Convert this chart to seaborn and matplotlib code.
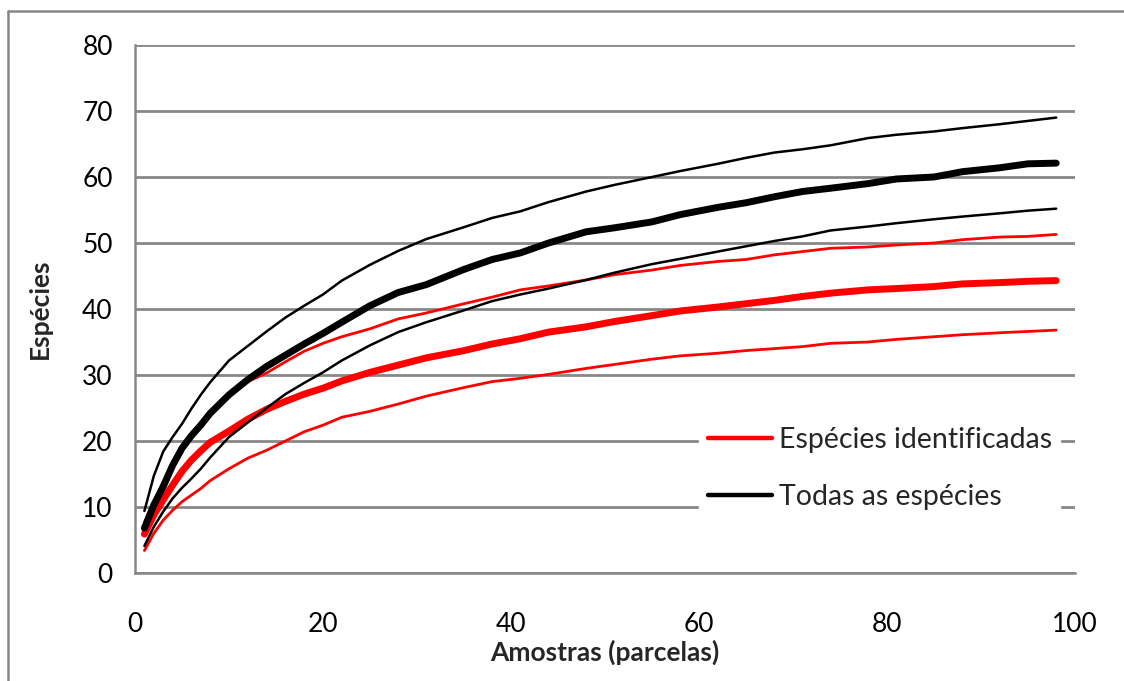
import numpy as np
import pandas as pd
import matplotlib
matplotlib.use("Agg")
import matplotlib.pyplot as plt
from matplotlib.lines import Line2D
import seaborn as sns

# ---- data ----
amostras = [1, 2, 3, 4, 5, 6, 7, 8, 10, 12, 14, 16, 18, 20, 22, 25, 28, 31, 35, 38,
            41, 44, 48, 51, 55, 58, 62, 65, 68, 71, 74, 78, 81, 85, 88, 92, 95, 98]

ident_media = [5.9, 8.8, 11.1, 13.3, 15.4, 17.1, 18.5, 19.8, 21.5, 23.3, 24.8, 26.0, 27.1, 28.0,
               29.1, 30.4, 31.5, 32.6, 33.7, 34.7, 35.5, 36.5, 37.3, 38.1, 39.0, 39.7, 40.3,
               40.8, 41.3, 41.9, 42.4, 42.9, 43.1, 43.4, 43.8, 44.0, 44.2, 44.3]
ident_sup = [7.6, 10.8, 13.8, 16.8, 19.3, 21.2, 22.8, 24.5, 27.0, 29.0, 30.3, 32.0, 33.6, 34.8,
             35.8, 37.0, 38.5, 39.4, 40.8, 41.8, 42.9, 43.5, 44.4, 45.2, 45.9, 46.6, 47.2,
             47.5, 48.2, 48.7, 49.2, 49.4, 49.7, 50.0, 50.5, 50.9, 51.0, 51.3]
ident_inf = [3.4, 6.0, 8.0, 9.5, 10.8, 11.8, 12.8, 14.0, 15.8, 17.4, 18.6, 20.0, 21.4, 22.4,
             23.6, 24.5, 25.6, 26.8, 28.1, 29.0, 29.5, 30.1, 31.0, 31.6, 32.4, 32.9, 33.3,
             33.7, 34.0, 34.3, 34.8, 35.0, 35.4, 35.8, 36.1, 36.4, 36.6, 36.8]

todas_media = [6.8, 10.3, 13.1, 16.3, 18.9, 20.8, 22.4, 24.2, 27.0, 29.3, 31.3, 33.0, 34.7, 36.3,
               38.0, 40.5, 42.5, 43.7, 46.0, 47.5, 48.5, 50.0, 51.7, 52.3, 53.2, 54.3, 55.4,
               56.1, 57.0, 57.8, 58.3, 59.0, 59.7, 60.0, 60.8, 61.4, 62.0, 62.1]
todas_sup = [9.4, 14.7, 18.4, 20.6, 22.6, 24.9, 27.0, 28.9, 32.2, 34.4, 36.6, 38.7, 40.5, 42.2,
             44.3, 46.7, 48.8, 50.6, 52.4, 53.8, 54.8, 56.2, 57.8, 58.8, 60.0, 60.9, 62.0,
             62.9, 63.7, 64.2, 64.8, 65.9, 66.4, 66.9, 67.4, 68.0, 68.5, 69.0]
todas_inf = [4.1, 7.0, 9.3, 11.3, 12.9, 14.3, 15.8, 17.5, 20.6, 22.8, 25.0, 27.1, 28.8, 30.4,
             32.2, 34.5, 36.5, 38.0, 39.8, 41.2, 42.2, 43.1, 44.4, 45.5, 46.8, 47.6, 48.7,
             49.5, 50.3, 51.0, 51.9, 52.5, 53.0, 53.6, 54.0, 54.5, 54.9, 55.2]

legend_labels = ["Espécies identificadas", "Todas as espécies"]
x_ticks = [0, 20, 40, 60, 80, 100]
y_ticks = [0, 10, 20, 30, 40, 50, 60, 70, 80]

# ---- styling ----
sns.set_style("white")
plt.rcParams['font.family'] = ['Lato', 'DejaVu Sans']

GRID = "#878787"
RED = "#ff0000"
BLACK = "#000000"

fig = plt.figure(figsize=(11.24, 6.81), dpi=100)
ax = fig.add_axes([135 / 1124, 1 - 573 / 681, 940 / 1124, 528 / 681])

series = [
    (ident_inf, RED, 2.0),
    (ident_sup, RED, 2.0),
    (ident_media, RED, 5.0),
    (todas_inf, BLACK, 1.8),
    (todas_sup, BLACK, 1.8),
    (todas_media, BLACK, 5.0),
]
for vals, col, lw in series:
    df = pd.DataFrame({"x": amostras, "y": vals})
    sns.lineplot(data=df, x="x", y="y", color=col, linewidth=lw, ax=ax,
                 legend=False, solid_capstyle="round", zorder=3)

ax.set_xlim(0, 100)
ax.set_ylim(0, 80)
ax.set_xticks(x_ticks)
ax.set_yticks(y_ticks)
ax.yaxis.grid(True, color=GRID, linewidth=2.0)
ax.xaxis.grid(False)
ax.set_axisbelow(True)

for side in ["top", "right"]:
    ax.spines[side].set_visible(False)
for side in ["left", "bottom"]:
    ax.spines[side].set_color(GRID)
    ax.spines[side].set_linewidth(1.8)

ax.tick_params(axis="both", which="major", direction="out", length=6, width=1.5,
               color=GRID, labelsize=19, labelcolor="black")
ax.tick_params(axis="x", pad=22)
ax.tick_params(axis="y", pad=10)

ax.set_xlabel("Amostras (parcelas)", fontsize=19, fontweight="bold", labelpad=2)
ax.set_ylabel("Espécies", fontsize=19, fontweight="bold", labelpad=22)

handles = [Line2D([0], [0], color=RED, linewidth=3.2),
           Line2D([0], [0], color=BLACK, linewidth=3.2)]
leg = ax.legend(handles, legend_labels, loc="upper left",
                bbox_to_anchor=((699 - 135) / 940, (573 - 418) / 528),
                frameon=True, fancybox=False, framealpha=1.0, edgecolor="white",
                facecolor="white", fontsize=20.5, handlelength=2.25, handletextpad=0.25,
                labelspacing=1.1, borderpad=0.3, borderaxespad=0)
leg.set_zorder(5)

# outer chart-area border (Excel style)
fig.add_artist(Line2D([8 / 1124, 8 / 1124], [0, 1 - 11 / 681], color=GRID, linewidth=1.8))
fig.add_artist(Line2D([8 / 1124, 1], [1 - 11 / 681, 1 - 11 / 681], color=GRID, linewidth=1.8))

fig.savefig("out.png", dpi=100)
